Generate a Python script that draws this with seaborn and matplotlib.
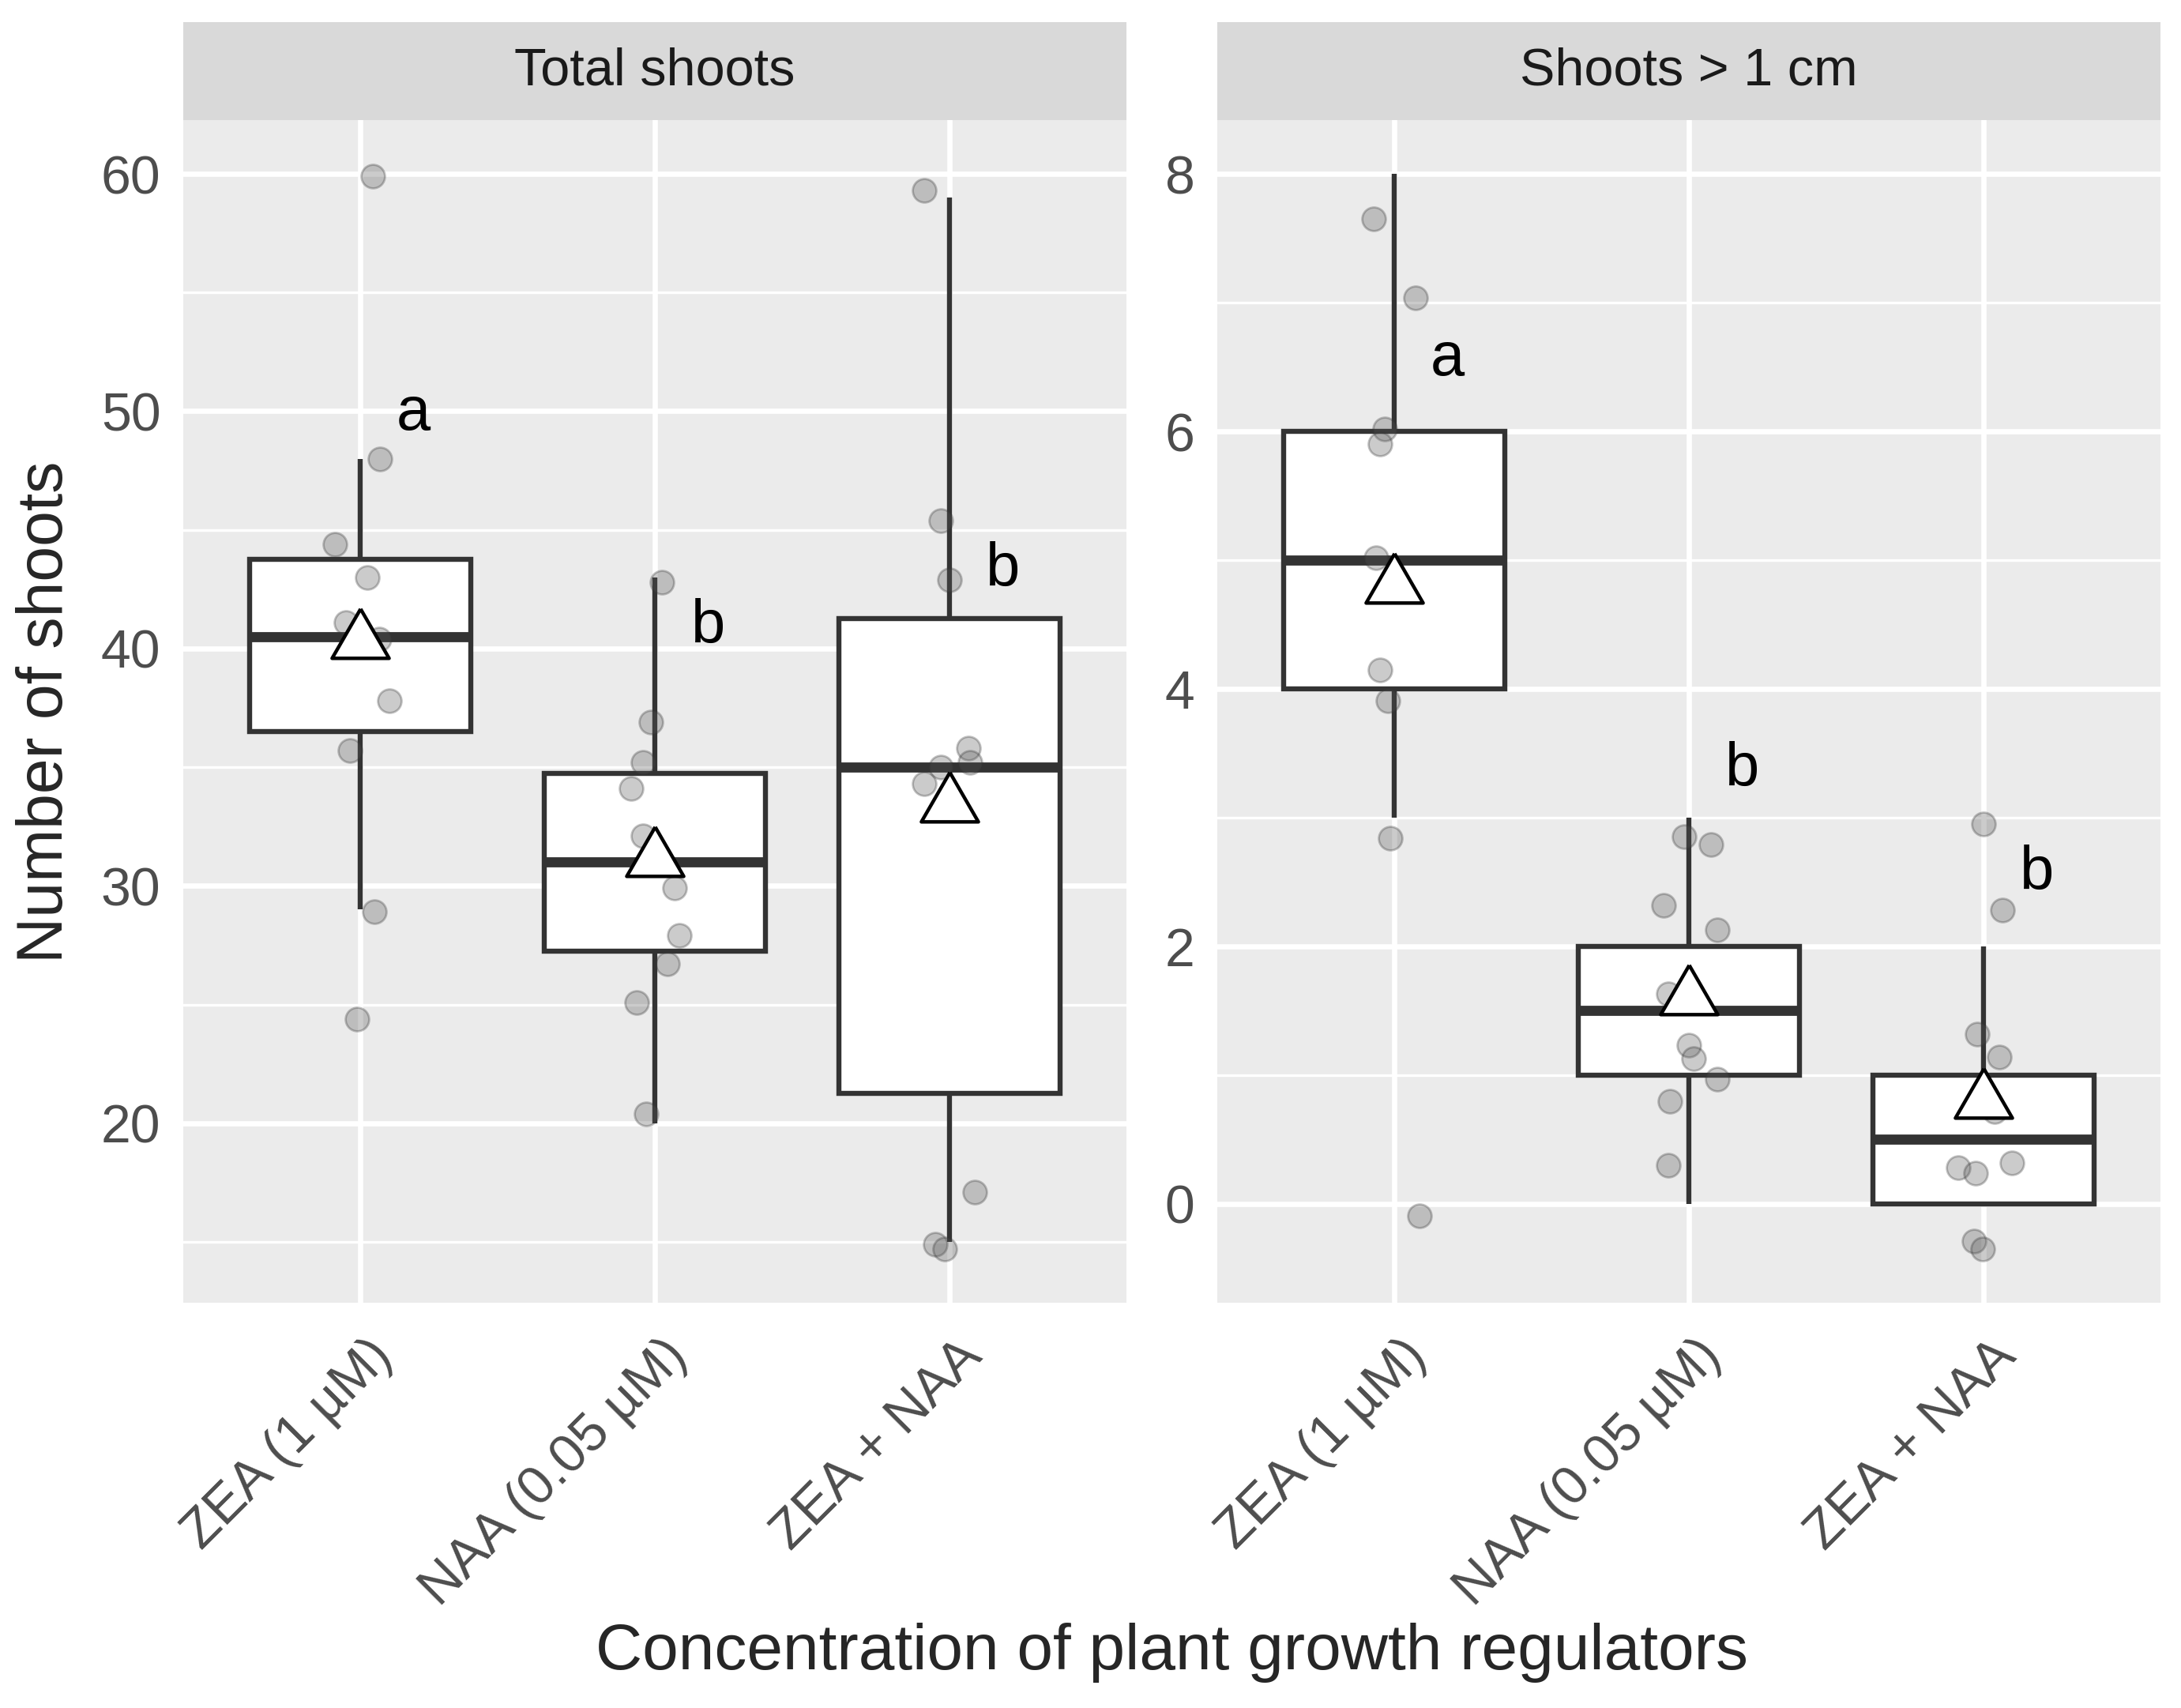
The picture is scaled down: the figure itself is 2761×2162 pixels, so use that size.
import matplotlib.pyplot as plt
import matplotlib.transforms as mtransforms
from matplotlib.path import Path
import numpy as np
import pandas as pd
import seaborn as sns

groups = ["ZEA (1 µM)", "NAA (0.05 µM)", "ZEA + NAA"]
panels = ["Total shoots", "Shoots > 1 cm"]

# counts per explant (used for boxes and means)
total_zea = [60, 48, 44, 43, 41, 40, 38, 36, 29, 24]
total_naa = [43, 37, 35, 34, 32, 30, 28, 27, 25, 20]
total_mix = [59, 45, 43, 36, 35, 35, 34, 17, 15, 15]
long_zea = [8, 7, 6, 6, 5, 5, 4, 4, 3, 0]
long_naa = [3, 3, 2, 2, 2, 1, 1, 1, 1, 0]
long_mix = [3, 2, 1, 1, 1, 0, 0, 0, 0, 0]

# the jittered points as they were drawn: x shift from the group and shown y
total_zea_dx = [0.044, 0.066, -0.086, 0.025, -0.049, 0.065, 0.10, -0.035, 0.048, -0.010]
total_zea_y = [59.9, 48.0, 44.4, 43.0, 41.1, 40.4, 37.8, 35.7, 28.9, 24.4]
total_naa_dx = [0.024, -0.014, -0.039, -0.080, -0.039, 0.068, 0.083, 0.042, -0.062, -0.029]
total_naa_y = [42.8, 36.9, 35.2, 34.1, 32.1, 29.9, 27.9, 26.7, 25.1, 20.4]
total_mix_dx = [-0.087, -0.030, 0.0, 0.064, 0.069, -0.030, -0.087, 0.086, -0.049, -0.016]
total_mix_y = [59.3, 45.4, 42.9, 35.8, 35.2, 35.0, 34.3, 17.1, 14.9, 14.7]
long_zea_dx = [-0.070, 0.072, -0.032, -0.047, -0.060, -0.021, -0.049, -0.021, -0.013, 0.085]
long_zea_y = [7.65, 7.04, 6.02, 5.90, 5.02, 4.76, 4.15, 3.91, 2.84, -0.09]
long_naa_dx = [-0.017, 0.075, -0.085, 0.096, -0.070, 0.0, 0.015, 0.096, -0.064, -0.070]
long_naa_y = [2.85, 2.79, 2.32, 2.13, 1.63, 1.23, 1.13, 0.97, 0.80, 0.30]
long_mix_dx = [0.0, 0.064, -0.021, 0.053, 0.038, 0.096, -0.085, -0.026, -0.032, -0.004]
long_mix_y = [2.95, 2.28, 1.32, 1.14, 0.72, 0.32, 0.28, 0.24, -0.29, -0.35]

# significance letters
letters_total = ["a", "b", "b"]
letter_y_total = [49.9, 40.9, 43.3]
letters_long = ["a", "b", "b"]
letter_y_long = [6.56, 3.37, 2.57]

rows = []
raw = [[total_zea, total_naa, total_mix], [long_zea, long_naa, long_mix]]
dxs = [[total_zea_dx, total_naa_dx, total_mix_dx], [long_zea_dx, long_naa_dx, long_mix_dx]]
ys = [[total_zea_y, total_naa_y, total_mix_y], [long_zea_y, long_naa_y, long_mix_y]]
for p, panel in enumerate(panels):
    for g, grp in enumerate(groups):
        for v, dx, y in zip(raw[p][g], dxs[p][g], ys[p][g]):
            rows.append({"panel": panel, "group": grp, "value": v, "pos": g + dx, "shown": y})
df = pd.DataFrame(rows)

sns.set_style("white")
plt.rcParams["font.family"] = ["Liberation Sans", "DejaVu Sans"]

W, H, DPI = 2761, 2162, 200
fig = plt.figure(figsize=(W / DPI, H / DPI), dpi=DPI)

panel_w = 1194 / W
lefts = [232 / W, 1541 / W]
bottom = 1 - 1649 / H
top = 1 - 152 / H
strip_top = 1 - 28 / H

tri = Path([(0, 1), (-0.866, -0.5), (0.866, -0.5), (0, 1)])
majors = [[20, 30, 40, 50, 60], [0, 2, 4, 6, 8]]
minors = [[15, 25, 35, 45, 55], [1, 3, 5, 7]]
letters = [letters_total, letters_long]
letter_ys = [letter_y_total, letter_y_long]

for p, panel in enumerate(panels):
    sub = df[df["panel"] == panel]
    ax = fig.add_axes([lefts[p], bottom, panel_w, top - bottom])
    ax.set_facecolor("#EBEBEB")

    sns.boxplot(data=sub, x="group", y="value", order=groups, ax=ax,
                width=0.75, color="white", saturation=1, linecolor="#333333",
                linewidth=2.3, showfliers=False, showcaps=False, whis=1.5,
                medianprops={"linewidth": 4.6}, zorder=2)
    sns.scatterplot(x=sub["pos"].values, y=sub["shown"].values, ax=ax,
                    color="#555555", alpha=0.3, s=115, edgecolor="#333333",
                    linewidth=1.0, zorder=3, legend=False)
    sns.pointplot(data=sub, x="group", y="value", order=groups, ax=ax,
                  estimator="mean", errorbar=None, linestyle="none", marker=tri,
                  markersize=30, markeredgewidth=1.6, color="black",
                  markerfacecolor="white", zorder=4)

    for i, (lab, ly) in enumerate(zip(letters[p], letter_ys[p])):
        ax.text(i + 0.18, ly, lab, fontsize=28, ha="center", va="center", color="black", zorder=5)

    lo, hi = sub["shown"].min(), max(sub["shown"].max(), sub["value"].max())
    pad = (hi - lo) * 0.05
    ax.set_ylim(lo - pad, hi + pad)
    ax.set_xlim(-0.6, 2.6)
    ax.set_yticks(majors[p])
    ax.set_yticks(minors[p], minor=True)
    ax.set_xticks(range(len(groups)), groups)
    ax.set_xlabel("")
    ax.set_ylabel("")
    for s in ax.spines.values():
        s.set_visible(False)
    ax.grid(True, which="major", color="white", linewidth=2.4, zorder=0)
    ax.grid(True, which="minor", axis="y", color="white", linewidth=1.2, zorder=0)
    ax.set_axisbelow(True)
    ax.tick_params(axis="both", which="major", length=7.8, width=2.6, color="#333333",
                   labelsize=24.5, labelcolor="#4D4D4D", pad=2.5)
    ax.tick_params(axis="y", which="minor", length=0)
    for lab in ax.get_xticklabels():
        lab.set_rotation(45)
        lab.set_ha("right")
        lab.set_va("top")
        lab.set_rotation_mode("anchor")
        lab.set_transform(lab.get_transform() + mtransforms.ScaledTranslation(0.04, -0.03, fig.dpi_scale_trans))

    strip = fig.add_axes([lefts[p], top, panel_w, strip_top - top])
    strip.set_facecolor("#D9D9D9")
    strip.set_xticks([])
    strip.set_yticks([])
    for s in strip.spines.values():
        s.set_visible(False)
    strip.text(0.5, 0.5, panel, transform=strip.transAxes, ha="center", va="center",
               fontsize=24, color="#1A1A1A")

fig.text(0.021, 1 - 901 / H, "Number of shoots", rotation=90, ha="center", va="center", fontsize=29)
fig.text(1484 / W, 1 - 2092 / H, "Concentration of plant growth regulators",
         ha="center", va="center", fontsize=29.5)

fig.savefig("out.png", dpi=DPI)
